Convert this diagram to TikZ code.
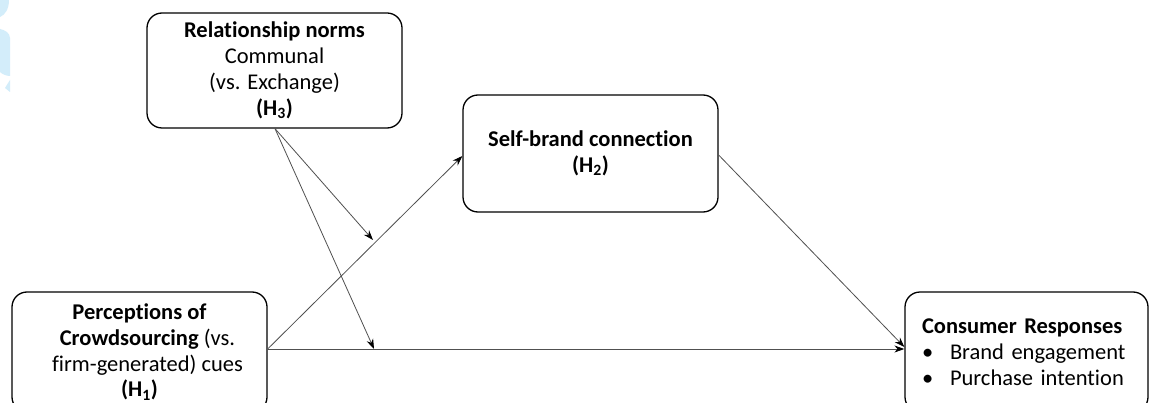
\documentclass[tikz,border=0pt]{standalone}
\usepackage{fontspec}
\setmainfont{Carlito}[Ligatures=NoCommon]
\usetikzlibrary{arrows.meta}
\definecolor{wmblue}{HTML}{D3EDFA}
\definecolor{lnk}{HTML}{505050}
\begin{document}
\begin{tikzpicture}[x=1pt,y=-1pt,
  box/.style={draw=black, line width=1.3pt, rounded corners=15pt, align=center,
    font=\fontsize{22.5}{25.8}\selectfont, inner sep=0pt},
  conn/.style={draw=lnk, line width=0.8pt, -{Stealth[length=10pt,width=7pt,black]}}]
\useasboundingbox (0,0) rectangle (1150,403);
\fill[white] (0,0) rectangle (1150,403);
% watermark fragment
\fill[wmblue] (0,0) -- (9,0) .. controls (9,9) and (5,15) .. (0,17) -- cycle;
\fill[wmblue] (0,29) .. controls (5,30) and (10,33) .. (10,38) -- (10,76) .. controls (6,76) and (2,74) .. (0,72) -- cycle;
\fill[wmblue] (10,80) -- (10,92) -- (5,88) -- cycle;
% boxes
\node[box, minimum width=255pt, minimum height=115pt] (rn) at (274.5,70.5)
  {\textbf{Relationship norms}\\Communal\\(vs. Exchange)\\\textbf{(H\textsubscript{3})}};
\node[box, minimum width=255pt, minimum height=117pt] (sb) at (590.5,153.5)
  {\textbf{Self-brand connection}\\\textbf{(H\textsubscript{2})}};
\node[box, minimum width=255pt, minimum height=120pt] (pc) at (139.5,352)
  {\textbf{Perceptions of}\\\hspace*{16pt}\textbf{Crowdsourcing} (vs.\\\hspace*{16pt}firm-generated) cues\\\textbf{(H\textsubscript{1})}};
\node[box, align=left, minimum width=243pt, minimum height=120pt, text width=209pt, inner xsep=17pt] (cr) at (1026.5,352)
  {\textbf{Consumer Responses}\\\makebox[28pt][l]{\textbullet}Brand engagement\\\makebox[28pt][l]{\textbullet}Purchase intention};
% free ends of moderation arrows
\coordinate (m1) at (373,240);
\coordinate (m2) at (374,349);
% connectors
\draw[conn] ([yshift=3pt]pc.east) -- ([yshift=-2.5pt]sb.west);
\draw[conn] ([yshift=3pt]pc.east) -- ([yshift=3pt]cr.west);
\draw[conn] ([yshift=-1.5pt]sb.east) -- ([yshift=5pt]cr.west);
\draw[conn] ([xshift=0.5pt]rn.south) -- (m1);
\draw[conn] ([xshift=0.5pt]rn.south) -- (m2);
\end{tikzpicture}
\end{document}
